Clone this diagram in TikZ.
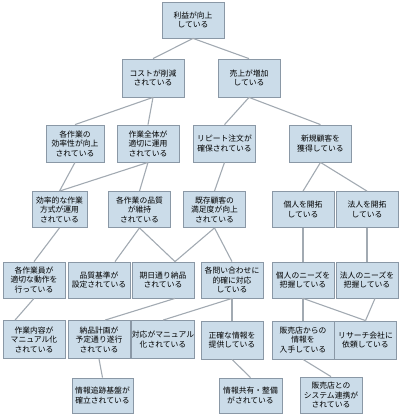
\documentclass[tikz,border=0pt]{standalone}
\usepackage{fontspec}
\setmainfont{Noto Sans CJK JP}
\usepackage{tikz}
\usetikzlibrary{calc}
\definecolor{boxfill}{HTML}{CBDCE9}
\definecolor{boxline}{HTML}{8A98A6}
\definecolor{linkgray}{HTML}{A2AAB2}

\begin{document}
\begin{tikzpicture}[x=1pt, y=-1pt,
  box/.style={draw=boxline, fill=boxfill, line width=0.8pt, align=center,
    minimum width=62pt, minimum height=36pt, inner sep=0.5pt,
    font=\fontsize{7.8}{9.6}\selectfont},
  link/.style={draw=linkgray, line width=1.1pt}]

  \useasboundingbox (0,0) rectangle (400,417);

  % Level 1-3
  \node[box] (top) at (193,20) {利益が向上\\している};
  \node[box, minimum height=38pt] (cost) at (153,78) {コストが削減\\されている};
  \node[box, minimum height=38pt] (uri) at (249,78) {売上が増加\\している};
  \node[box, minimum width=58pt, minimum height=37pt] (eff) at (75,143.5) {各作業の\\効率性が向上\\されている};
  \node[box, minimum height=37pt] (whole) at (148,143.5) {作業全体が\\適切に運用\\されている};
  \node[box, minimum height=37pt] (repeat) at (224.5,143.5) {リピート注文が\\確保されている};
  \node[box, minimum height=37pt] (new) at (320.5,143.5) {新規顧客を\\獲得している};

  % Level 4
  \node[box, minimum width=55pt] (method) at (59.5,209.5) {効率的な作業\\方式が運用\\されている};
  \node[box] (quality) at (139.5,209.5) {各作業の品質\\が維持\\されている};
  \node[box] (satisf) at (214.5,209.5) {既存顧客の\\満足度が向上\\されている};
  \node[box] (kojin) at (303,209.5) {個人を開拓\\している};
  \node[box] (hojin) at (367,209.5) {法人を開拓\\している};

  % Level 5
  \node[box] (worker) at (34,280) {各作業員が\\適切な動作を\\行っている};
  \node[box] (std) at (99,280) {品質基準が\\設定されている};
  \node[box] (due) at (163,280) {期日通り納品\\されている};
  \node[box] (inquiry) at (232,280) {各問い合わせに\\的確に対応\\している};
  \node[box] (kneeds) at (303,280) {個人のニーズを\\把握している};
  \node[box] (hneeds) at (367,280) {法人のニーズを\\把握している};

  % Level 6
  \node[box, minimum height=38pt] (manual) at (34,339.5) {作業内容が\\マニュアル化\\されている};
  \node[box, minimum height=38pt] (plan) at (99,339.5) {納品計画が\\予定通り遂行\\されている};
  \node[box, minimum height=38pt] (resp) at (163,339.5) {対応がマニュアル\\化されている};
  \node[box, minimum height=38pt] (info) at (232,340) {正確な情報を\\提供している};
  \node[box, minimum height=38pt] (shop) at (303,340) {販売店からの\\情報を\\入手している};
  \node[box, minimum height=38pt] (research) at (365.5,340) {リサーチ会社に\\依頼している};

  % Level 7
  \node[box, minimum width=61pt, minimum height=35pt] (track) at (102.5,395.5) {情報追跡基盤が\\確立されている};
  \node[box, minimum width=63pt, minimum height=35pt] (share) at (250.5,395.5) {情報共有・整備\\がされている};
  \node[box] (sys) at (331,395) {販売店との\\システム連携が\\されている};

  % Connectors
  \foreach \a/\b in {top/cost, top/uri, cost/eff, cost/whole, uri/repeat, uri/new,
    eff/method, whole/method, whole/quality, repeat/satisf, new/kojin, new/hojin,
    method/worker, satisf/inquiry, kojin/kneeds, hojin/hneeds,
    inquiry/resp, inquiry/info, kneeds/shop, kneeds/research,
    plan/track, info/share, shop/sys}
    \draw[link] (\a.south) -- (\b.north);

  \draw[link] (quality.south) -- ($(std.north)+(16,0)$);
  \draw[link] (quality.south) -- ($(due.north)+(12,0)$);
  \draw[link] (satisf.south) -- ($(due.north)+(12,0)$);
  \draw[link] (worker.south) -- ($(manual.north)+(-19,0)$);
  \draw[link] ($(due.south)+(12,0)$) -- ($(plan.north)+(6,0)$);
  \draw[link] ($(hneeds.south)+(8,0)$) -- (research.north);

\end{tikzpicture}
\end{document}
